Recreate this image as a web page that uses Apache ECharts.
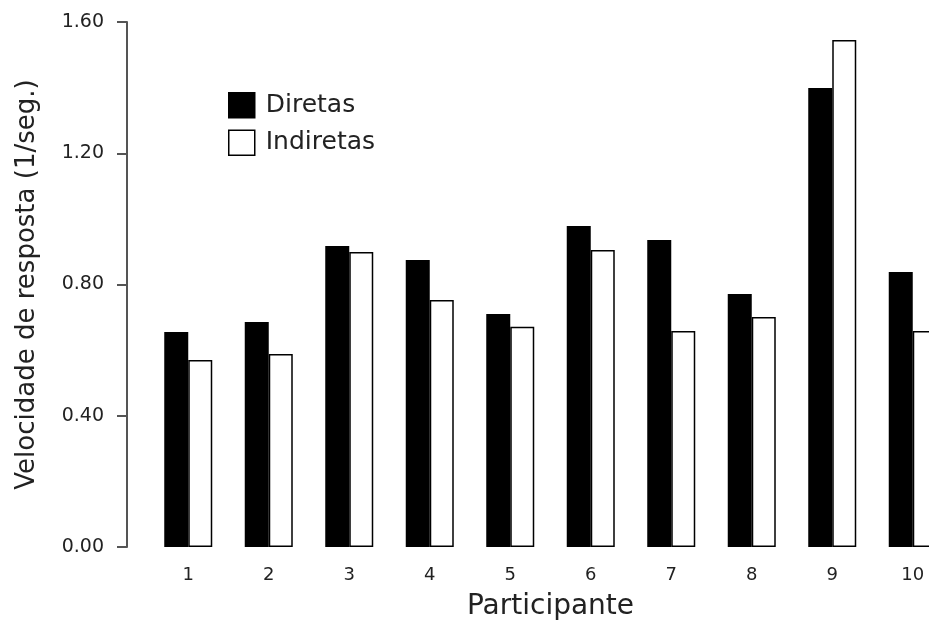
<!DOCTYPE html>
<html><head><meta charset="utf-8">
<script src="https://cdn.jsdelivr.net/npm/echarts@6/dist/echarts.min.js"></script>
<style>html,body{margin:0;padding:0;background:#fff;overflow:hidden}#c{width:929px;height:627px}</style>
</head><body><div id="c"></div>
<script>
var categories = ['1','2','3','4','5','6','7','8','9','10'];
var diretas = [0.655, 0.686, 0.917, 0.875, 0.710, 0.978, 0.936, 0.771, 1.399, 0.838];
var indiretas = [0.570, 0.588, 0.899, 0.753, 0.671, 0.905, 0.658, 0.701, 1.545, 0.658];
var yTicks = [0, 0.4, 0.8, 1.2, 1.6];

var chart = echarts.init(document.getElementById('c'));
var font = 'DejaVu Sans';
chart.setOption({
  animation: false,
  backgroundColor: '#fff',
  grid: { left: 148, top: 22, width: 805, height: 525, outerBoundsMode: 'none', containLabel: false },
  legend: {
    left: 228, top: 92, padding: 0, orient: 'vertical', itemWidth: 26, itemHeight: 25, itemGap: 11,
    textStyle: { fontFamily: font, fontSize: 25, color: '#222', padding: [0,0,0,6] },
    data: [
      { name: 'Diretas', icon: 'rect', itemStyle: { color: '#000', borderColor: '#000', borderWidth: 1.5 } },
      { name: 'Indiretas', icon: 'rect', itemStyle: { color: '#fff', borderColor: '#000', borderWidth: 1.5 } }
    ]
  },
  xAxis: {
    type: 'category', data: categories,
    axisLine: { show: false }, axisTick: { show: false },
    axisLabel: { fontFamily: font, fontSize: 18, color: '#222', margin: 19 },
    name: 'Participante', nameLocation: 'middle', nameGap: 46,
    nameTextStyle: { fontFamily: font, fontSize: 28, color: '#222' }
  },
  yAxis: {
    type: 'value', min: 0, max: 1.6, interval: 0.4, offset: 21,
    splitLine: { show: false },
    axisLine: { show: true, lineStyle: { color: '#555', width: 2 } },
    axisTick: { show: true, length: 10, lineStyle: { color: '#555', width: 2 } },
    axisLabel: { fontFamily: font, fontSize: 19, color: '#222', margin: 23,
      formatter: function (v) { return v.toFixed(2); } },
    name: 'Velocidade de resposta (1/seg.)', nameLocation: 'middle', nameGap: 87,
    nameTextStyle: { fontFamily: font, fontSize: 26, color: '#222' }
  },
  series: [
    { name: 'Diretas', type: 'bar', data: diretas, barWidth: 24, barGap: '0%',
      itemStyle: { color: '#000', borderColor: '#000', borderWidth: 1.5 } },
    { name: 'Indiretas', type: 'bar', data: indiretas, barWidth: 24, barGap: '0%',
      itemStyle: { color: '#fff', borderColor: '#000', borderWidth: 1.5 } }
  ]
});
</script></body></html>
